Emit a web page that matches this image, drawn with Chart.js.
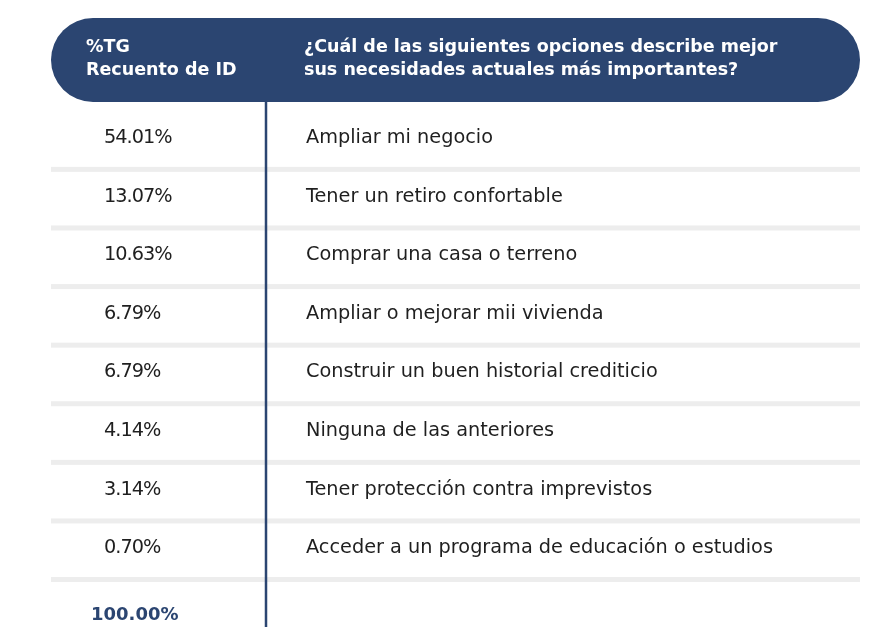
<!DOCTYPE html>
<html>
<head>
<meta charset="utf-8">
<script src="https://cdn.jsdelivr.net/npm/chart.js@4/dist/chart.umd.min.js"></script>
<style>
  html, body { margin: 0; padding: 0; background: #fff; }
  #wrap { width: 893px; height: 632px; }
</style>
</head>
<body>
<div id="wrap"><canvas id="tabla"></canvas></div>
<script>
// ============ DATOS ============
const HEADER_LEFT = ['%TG', 'Recuento de ID'];
const HEADER_RIGHT = [
  '¿Cuál de las siguientes opciones describe mejor',
  'sus necesidades actuales más importantes?'
];
const OPCIONES = [
  'Ampliar mi negocio',
  'Tener un retiro confortable',
  'Comprar una casa o terreno',
  'Ampliar o mejorar mii vivienda',
  'Construir un buen historial crediticio',
  'Ninguna de las anteriores',
  'Tener protección contra imprevistos',
  'Acceder a un programa de educación o estudios'
];
const PORCENTAJES = [54.01, 13.07, 10.63, 6.79, 6.79, 4.14, 3.14, 0.70];
const TOTAL = 100.00;

// ============ ESTILO ============
const NAVY = '#2b4571';
const TEXT = '#1f1f1f';
const SEP = '#ededed';
const FONT = '"DejaVu Sans", sans-serif';

// ============ PLUGIN TABLA ============
const tablePlugin = {
  id: 'tabla',
  afterDraw(chart) {
    const ctx = chart.ctx;
    const a = chart.chartArea;
    const y = chart.scales.y;
    const w = a.right - a.left;
    const divX = a.left + 215;

    ctx.save();

    // cabecera
    ctx.fillStyle = NAVY;
    ctx.beginPath();
    ctx.roundRect(a.left, a.top - 84, w, 84, 42);
    ctx.fill();

    ctx.fillStyle = '#ffffff';
    ctx.font = 'bold 17.5px ' + FONT;
    ctx.textBaseline = 'alphabetic';
    ctx.textAlign = 'left';
    HEADER_LEFT.forEach((t, i) => ctx.fillText(t, a.left + 35, a.top - 50 + i * 23));
    HEADER_RIGHT.forEach((t, i) => ctx.fillText(t, a.left + 253, a.top - 50 + i * 23));

    // separadores
    ctx.fillStyle = SEP;
    OPCIONES.forEach((_, i) => {
      const yy = y.getPixelForValue(i + 0.57);
      ctx.fillRect(a.left, yy - 2.5, w, 5);
    });

    // línea vertical
    ctx.strokeStyle = NAVY;
    ctx.lineWidth = 2.5;
    ctx.beginPath();
    ctx.moveTo(divX, a.top);
    ctx.lineTo(divX, a.bottom);
    ctx.stroke();

    // filas
    ctx.fillStyle = TEXT;
    ctx.font = '19.3px ' + FONT;
    OPCIONES.forEach((label, i) => {
      const yy = y.getPixelForValue(i) + 7;
      ctx.letterSpacing = '-1px';
      ctx.fillText(PORCENTAJES[i].toFixed(2) + '%', a.left + 53, yy);
      ctx.letterSpacing = '0px';
      ctx.fillText(label, a.left + 255, yy);
    });

    // total
    ctx.fillStyle = NAVY;
    ctx.font = 'bold 18px ' + FONT;
    ctx.fillText(TOTAL.toFixed(2) + '%', a.left + 40, a.bottom - 7);

    ctx.restore();
  }
};

// ============ GRÁFICO ============
const chart = new Chart(document.getElementById('tabla'), {
  type: 'scatter',
  data: {
    datasets: [{
      data: PORCENTAJES.map((v, i) => ({ x: v, y: i })),
      pointRadius: 0,
      pointHoverRadius: 0
    }]
  },
  options: {
    responsive: true,
    maintainAspectRatio: false,
    animation: false,
    events: [],
    layout: { padding: { top: 102, bottom: 5, left: 51, right: 33 } },
    plugins: { legend: { display: false }, tooltip: { enabled: false } },
    scales: {
      x: { display: false, min: 0, max: 100 },
      y: { display: false, reverse: true, min: -0.58, max: 8.38 }
    }
  },
  plugins: [tablePlugin]
});
</script>
</body>
</html>
